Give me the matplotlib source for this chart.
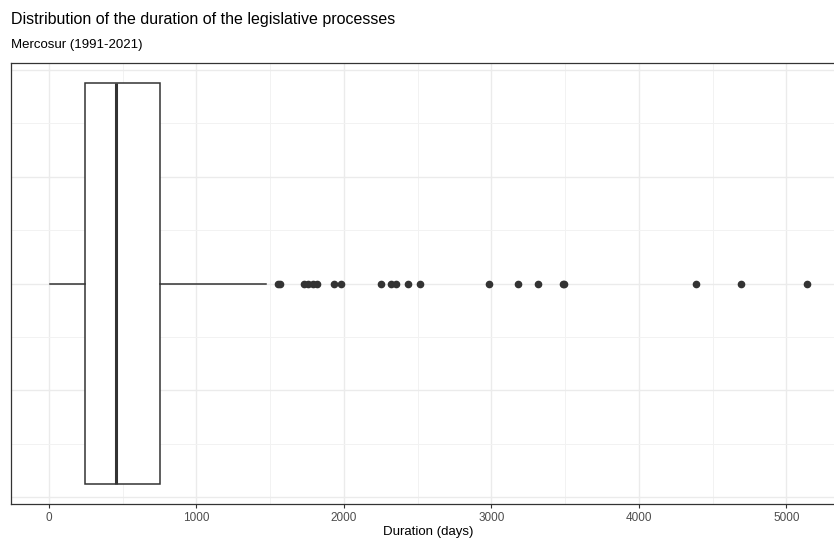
import matplotlib.pyplot as plt

plt.rcParams['font.family'] = ['Liberation Sans', 'DejaVu Sans']

# box summary (days)
q1, median, q3 = 244, 458, 752
whisker_low, whisker_high = 5, 1472
# outlying processes (days)
outliers = [1555, 1566, 1731, 1758, 1788, 1815, 1930, 1980, 2251, 2323,
            2355, 2436, 2517, 2983, 3178, 3317, 3487, 3490, 4391, 4696, 5141]

x_ticks = [0, 1000, 2000, 3000, 4000, 5000]
x_minor = [500, 1500, 2500, 3500, 4500]

dark = '#333333'
grid = '#EBEBEB'

fig = plt.figure(figsize=(8.34, 5.4), dpi=100)
ax = fig.add_axes([11 / 834, 36 / 540, 834 / 834, 441 / 540])

stats = [{'q1': q1, 'med': median, 'q3': q3,
          'whislo': whisker_low, 'whishi': whisker_high,
          'fliers': outliers}]
ax.bxp(stats, positions=[0], widths=0.75, vert=False, showcaps=False,
       patch_artist=True,
       boxprops=dict(facecolor='white', edgecolor=dark, linewidth=1.1),
       medianprops=dict(color=dark, linewidth=2.2),
       whiskerprops=dict(color=dark, linewidth=1.1),
       flierprops=dict(marker='o', markerfacecolor=dark, markeredgecolor=dark,
                       markersize=4.5, linestyle='none'),
       zorder=3)

# ggplot-style expanded limits
lo, hi = min(whisker_low, 0), max(outliers)
pad = 0.05 * (hi - lo)
ax.set_xlim(lo - pad, hi + pad)
ax.set_ylim(-0.4125, 0.4125)

ax.set_xticks(x_ticks)
ax.set_xticks(x_minor, minor=True)
ax.set_yticks([-0.4, -0.2, 0, 0.2, 0.4])
ax.set_yticks([-0.3, -0.1, 0.1, 0.3], minor=True)
ax.grid(which='major', color=grid, linewidth=1.0, zorder=0)
ax.grid(which='minor', color='#F2F2F2', linewidth=0.7, zorder=0)
ax.set_axisbelow(True)

ax.tick_params(axis='x', which='major', length=3, width=0.8, color=dark,
               labelsize=8.5, labelcolor='#4D4D4D', pad=3)
ax.tick_params(axis='x', which='minor', length=0)
ax.tick_params(axis='y', which='both', length=0, labelleft=False)
ax.set_yticklabels([])
for s in ax.spines.values():
    s.set_color(dark)
    s.set_linewidth(0.9)

ax.set_xlabel('Duration (days)', fontsize=9.5, labelpad=1)

fig.text(11 / 834, 1 - 24 / 540, 'Distribution of the duration of the legislative processes',
         fontsize=11.5, ha='left', va='baseline')
fig.text(11 / 834, 1 - 48 / 540, 'Mercosur (1991-2021)',
         fontsize=9.5, ha='left', va='baseline')

fig.savefig('out.png', dpi=100)
